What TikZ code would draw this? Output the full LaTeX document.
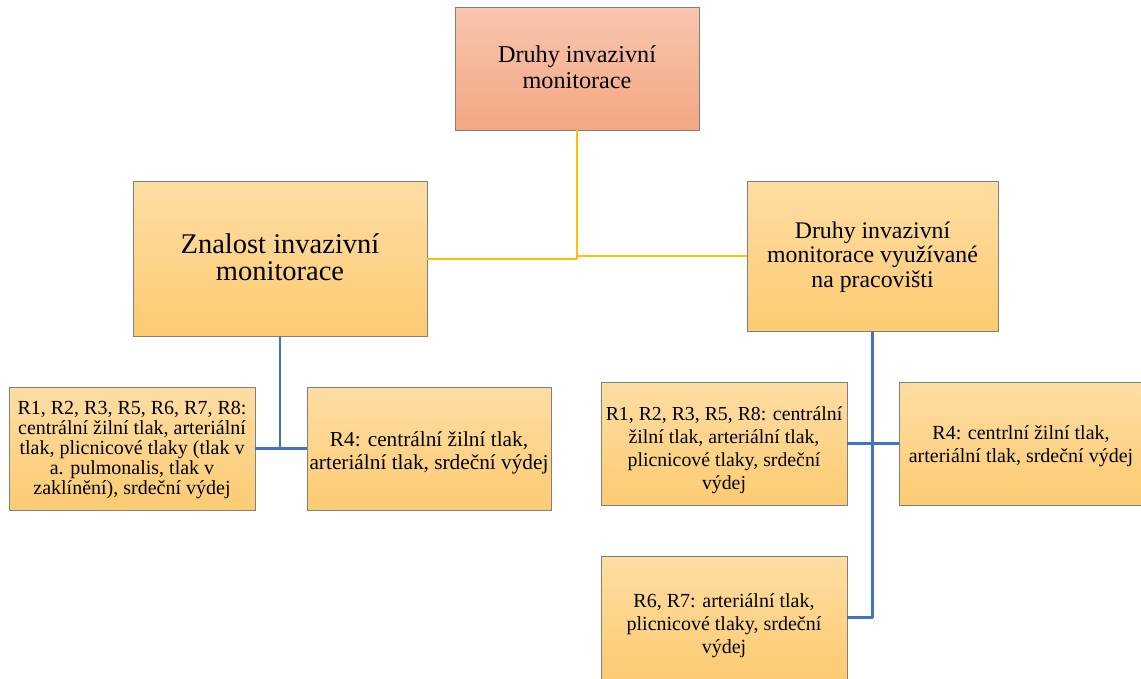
\documentclass[tikz,border=0pt]{standalone}
\usepackage{fontspec}
\setmainfont{Liberation Serif}
\begin{document}
\begin{tikzpicture}[x=1pt,y=-1pt,
  box/.style={draw=black!50, line width=0.9pt, inner sep=0pt},
  mainbox/.style={box, top color=peach1, bottom color=peach2},
  subbox/.style={box, top color=gold1, bottom color=gold2},
  txt/.style={inner sep=0pt, align=center},
  fs/.style 2 args={font=\fontsize{#1}{#2}\selectfont},
  yline/.style={draw=linkyellow, line width=2pt},
  bline/.style={draw=linkblue, line width=2.4pt}]
\definecolor{peach1}{HTML}{F7C6AE}
\definecolor{peach2}{HTML}{F4A682}
\definecolor{gold1}{HTML}{FEDDA3}
\definecolor{gold2}{HTML}{FCCB72}
\definecolor{linkyellow}{HTML}{FFC000}
\definecolor{linkblue}{HTML}{4472C4}
\useasboundingbox (0,0) rectangle (1141,678);
\clip (0,0) rectangle (1141,678);

% boxes
\node[mainbox, minimum width=244pt, minimum height=123pt] (top) at (577,68.5) {};
\node[subbox, minimum width=294pt, minimum height=155pt] (zn) at (280,258.5) {};
\node[subbox, minimum width=251pt, minimum height=150pt] (dr) at (872.5,256) {};
\node[subbox, minimum width=246pt, minimum height=123pt] (l1) at (132,448.5) {};
\node[subbox, minimum width=244pt, minimum height=123pt] (l2) at (429,448.5) {};
\node[subbox, minimum width=246pt, minimum height=123pt] (r1) at (724,443.5) {};
\node[subbox, minimum width=244pt, minimum height=123pt] (r2) at (1021,443.5) {};
\node[subbox, minimum width=246pt, minimum height=123pt] (r3) at (724,617.5) {};

% box texts
\node[txt, fs={24.2}{26}] (topt) at ([yshift=1pt]top.center)
  {Druhy invazivní\\monitorace};
\node[txt, fs={28.5}{27}] (znt) at ([yshift=1pt]zn.center)
  {Znalost invazivní\\monitorace};
\node[txt, fs={23.8}{24.5}] (drt) at ([yshift=-1pt]dr.center)
  {Druhy invazivní\\monitorace využívané\\na pracovišti};
\node[txt, fs={20}{20}] (l1t) at ([yshift=-1pt]l1.center)
  {R1, R2, R3, R5, R6, R7, R8:\\centrální žilní tlak, arteriální\\tlak, plicnicové tlaky (tlak v\\a. pulmonalis, tlak v\\zaklínění), srdeční výdej};
\node[txt, fs={21.3}{23}] (l2t) at ([yshift=-4pt]l2.center)
  {R4: centrální žilní tlak,\\arteriální tlak, srdeční výdej};
\node[txt, fs={19.8}{23}] (r1t) at ([yshift=-7pt]r1.center)
  {R1, R2, R3, R5, R8: centrální\\žilní tlak, arteriální tlak,\\plicnicové tlaky, srdeční\\výdej};
\node[txt, fs={20}{23}] (r2t) at ([yshift=-3pt]r2.center)
  {R4: centrlní žilní tlak,\\arteriální tlak, srdeční výdej};
\node[txt, fs={20}{23}] (r3t) at ([yshift=-8pt]r3.center)
  {R6, R7: arteriální tlak,\\plicnicové tlaky, srdeční\\výdej};

% connectors from the root
\draw[yline] (top.south) -- (top.south |- zn.east);
\draw[yline] (zn.east) -- (zn.east -| top.south);
\draw[yline] (dr.west) -- (dr.west -| top.south);

% connectors, left branch
\draw[bline] (zn.south) -- (zn.south |- l1.east);
\draw[bline] (l1.east) -- (l2.west);

% connectors, right branch
\draw[bline] (dr.south) -- (dr.south |- r3.east);
\draw[bline] (r1.east) -- (r2.west);
\draw[bline] (r3.east) -- (r3.east -| dr.south);
\end{tikzpicture}
\end{document}
